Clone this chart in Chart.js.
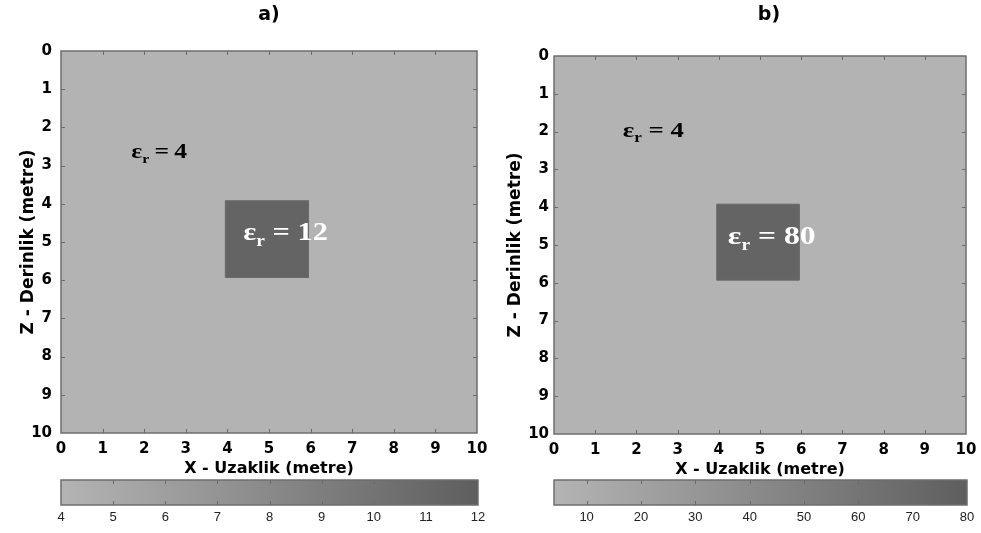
<!DOCTYPE html>
<html><head><meta charset="utf-8">
<script src="https://cdn.jsdelivr.net/npm/chart.js@4/dist/chart.umd.min.js"></script>
<style>
html,body{margin:0;padding:0;background:#fff;}
body{width:981px;height:533px;position:relative;overflow:hidden;}
canvas{position:absolute;}
</style></head><body>
<canvas id="ca" width="490" height="480" style="left:0;top:0"></canvas>
<canvas id="cb" width="491" height="481" style="left:490px;top:0"></canvas>
<canvas id="cbarA" width="490" height="63" style="left:0;top:470px"></canvas>
<canvas id="cbarB" width="491" height="63" style="left:490px;top:470px"></canvas>
<script>
// ---- data ----
const axisTicks = [0,1,2,3,4,5,6,7,8,9,10];
const panelTitles = ['a)', 'b)'];
const xTitle = 'X - Uzaklik (metre)';
const zTitle = 'Z - Derinlik (metre)';
// anomaly square corners (x, z) in metres
const squareXA = [3.95, 5.95, 5.95, 3.95, 3.95];
const squareZA = [3.92, 3.92, 5.93, 5.93, 3.92];
const squareXB = [3.95, 5.95, 5.95, 3.95, 3.95];
const squareZB = [3.92, 3.92, 5.93, 5.93, 3.92];
// permittivity values
const epsBackground = [4, 4];
const epsAnomaly = [12, 80];
// label anchors (x, z) in metres
const labelBgX = [1.69, 1.67];
const labelBgZ = [2.80, 2.14];
const labelAnX = [4.38, 4.22];
const labelAnZ = [4.95, 4.97];
// colour bar ranges and ticks
const cbarRangeA = [4, 12];
const cbarRangeB = [4, 80];
const cbarTicksA = [4,5,6,7,8,9,10,11,12];
const cbarTicksB = [10,20,30,40,50,60,70,80];

const BG = '#b3b3b3', DARK = '#646464';
const TICK_FONT = {family:'"DejaVu Sans"', weight:'bold', size:15};

function innerTicks(ctx, chart, doY) {
  const a = chart.chartArea;
  ctx.save();
  ctx.strokeStyle = '#6a6a6a'; ctx.lineWidth = 1;
  ctx.beginPath();
  const xs = chart.scales.x;
  xs.ticks.forEach(t => {
    if (t.value <= xs.min || t.value >= xs.max) return;
    const px = Math.round(xs.getPixelForValue(t.value)) + 0.5;
    ctx.moveTo(px, a.top); ctx.lineTo(px, a.top + 4);
    ctx.moveTo(px, a.bottom); ctx.lineTo(px, a.bottom - 4);
  });
  if (doY) {
    const ys = chart.scales.y;
    ys.ticks.forEach(t => {
      if (t.value <= ys.min || t.value >= ys.max) return;
      const py = Math.round(ys.getPixelForValue(t.value)) + 0.5;
      ctx.moveTo(a.left, py); ctx.lineTo(a.left + 4, py);
      ctx.moveTo(a.right, py); ctx.lineTo(a.right - 4, py);
    });
  }
  ctx.stroke();
  ctx.strokeStyle = '#6e6e6e'; ctx.lineWidth = 1.5;
  ctx.strokeRect(a.left, a.top, a.right - a.left, a.bottom - a.top);
  ctx.restore();
}

// draws "ε_r" + rest, horizontally stretched like the original figure
function drawEps(ctx, x, y, rest, size, color) {
  const sx = 1.22;
  ctx.save();
  ctx.translate(x, y);
  ctx.scale(sx, 1);
  ctx.fillStyle = color;
  ctx.textBaseline = 'alphabetic';
  ctx.textAlign = 'left';
  ctx.font = 'bold ' + size + 'px "Liberation Serif"';
  ctx.fillText('\u03B5', 0, 0);
  let w = ctx.measureText('\u03B5').width;
  const sub = Math.round(size * 0.62);
  ctx.font = 'bold ' + sub + 'px "Liberation Serif"';
  ctx.fillText('r', w, size * 0.22);
  w += ctx.measureText('r').width;
  ctx.font = 'bold ' + size + 'px "Liberation Serif"';
  ctx.fillText(rest, w, 0);
  ctx.restore();
}

function noOverflow(s) { s.paddingLeft = 0; s.paddingRight = 0; s.paddingTop = 0; s.paddingBottom = 0; }

function makeMain(id, idx, sqX, sqZ, padTop, padRight, yWidth, yPad, yTitlePad) {
  const panel = {
    id: 'panel' + idx,
    beforeDatasetsDraw(chart) {
      const a = chart.chartArea, ctx = chart.ctx;
      ctx.save(); ctx.fillStyle = BG;
      ctx.fillRect(a.left, a.top, a.right - a.left, a.bottom - a.top);
      ctx.restore();
    },
    afterDatasetsDraw(chart) {
      const ctx = chart.ctx, xs = chart.scales.x, ys = chart.scales.y;
      const rest = idx === 0 ? '\u2009=\u2009' : ' = ';
      drawEps(ctx, xs.getPixelForValue(labelBgX[idx]), ys.getPixelForValue(labelBgZ[idx]),
              rest + epsBackground[idx], idx === 0 ? 21 : 22, '#000');
      drawEps(ctx, xs.getPixelForValue(labelAnX[idx]), ys.getPixelForValue(labelAnZ[idx]),
              ' = ' + epsAnomaly[idx], idx === 0 ? 25 : 26, '#fff');
      innerTicks(ctx, chart, true);
      const a = chart.chartArea;
      ctx.save();
      ctx.fillStyle = '#000'; ctx.textAlign = 'center'; ctx.textBaseline = 'middle';
      ctx.font = 'bold 19px "DejaVu Sans"';
      ctx.fillText(panelTitles[idx], (a.left + a.right) / 2 + (idx === 0 ? 0 : 9), 15);
      ctx.restore();
    }
  };
  return new Chart(document.getElementById(id), {
    type: 'scatter',
    data: { datasets: [{
      data: sqX.map((x, i) => ({x: x, y: sqZ[i]})),
      showLine: true, fill: 'shape', tension: 0,
      backgroundColor: DARK, borderColor: '#6a6a6a', borderWidth: 1,
      pointRadius: 0, pointHoverRadius: 0
    }]},
    options: {
      responsive: false, animation: false, events: [],
      layout: { padding: {top: padTop, right: padRight, left: 0, bottom: 0} },
      plugins: { legend: {display: false}, tooltip: {enabled: false}, title: {display: false} },
      scales: {
        x: {
          type: 'linear', min: 0, max: 10, position: 'bottom',
          afterBuildTicks: s => { s.ticks = axisTicks.map(v => ({value: v})); },
          ticks: { font: TICK_FONT, color: '#000', padding: 7, maxRotation: 0 },
          grid: { display: false, drawTicks: false }, border: { display: false },
          title: { display: true, text: xTitle, color: '#000',
                   font: {family:'"DejaVu Sans"', weight:'bold', size:16}, padding: {top:0, bottom:2} },
          afterFit: s => { s.height = 47; noOverflow(s); }
        },
        y: {
          type: 'linear', min: 0, max: 10, reverse: true,
          afterBuildTicks: s => { s.ticks = axisTicks.map(v => ({value: v})); },
          ticks: { font: TICK_FONT, color: '#000', padding: yPad },
          grid: { display: false, drawTicks: false }, border: { display: false },
          title: { display: true, text: zTitle, color: '#000',
                   font: {family:'"DejaVu Sans"', weight:'bold', size:17}, padding: {top: yTitlePad, bottom: 0} },
          afterFit: s => { s.width = yWidth; noOverflow(s); }
        }
      }
    },
    plugins: [panel]
  });
}

function makeBar(id, range, ticks, padLeft, padRight) {
  const frame = {
    id: 'cbframe',
    afterDatasetsDraw(chart) { innerTicks(chart.ctx, chart, false); }
  };
  return new Chart(document.getElementById(id), {
    type: 'bar',
    data: { labels: ['eps'], datasets: [{
      data: [range],
      backgroundColor: (c) => {
        const a = c.chart.chartArea;
        if (!a) return BG;
        const g = c.chart.ctx.createLinearGradient(a.left, 0, a.right, 0);
        g.addColorStop(0, '#b4b4b4');
        g.addColorStop(1, '#5e5e5e');
        return g;
      },
      borderWidth: 0, barPercentage: 1, categoryPercentage: 1, borderSkipped: false
    }]},
    options: {
      indexAxis: 'y', responsive: false, animation: false, events: [],
      layout: { padding: {top: 10, left: padLeft, right: padRight, bottom: 0} },
      plugins: { legend: {display: false}, tooltip: {enabled: false} },
      scales: {
        x: {
          type: 'linear', min: range[0], max: range[1],
          afterBuildTicks: s => { s.ticks = ticks.map(v => ({value: v})); },
          ticks: { font: {family:'"Liberation Sans"', size: 13}, color: '#222', padding: 5, maxRotation: 0 },
          grid: { display: false, drawTicks: false }, border: { display: false },
          afterFit: s => { s.height = 28; noOverflow(s); }
        },
        y: { display: false }
      }
    },
    plugins: [frame]
  });
}

makeMain('ca', 0, squareXA, squareZA, 51, 13, 61, 9, 18);
makeMain('cb', 1, squareXB, squareZB, 56, 15, 64, 5, 15);
makeBar('cbarA', cbarRangeA, cbarTicksA, 61, 12);
makeBar('cbarB', cbarRangeB, cbarTicksB, 64, 14);
</script>
</body></html>
